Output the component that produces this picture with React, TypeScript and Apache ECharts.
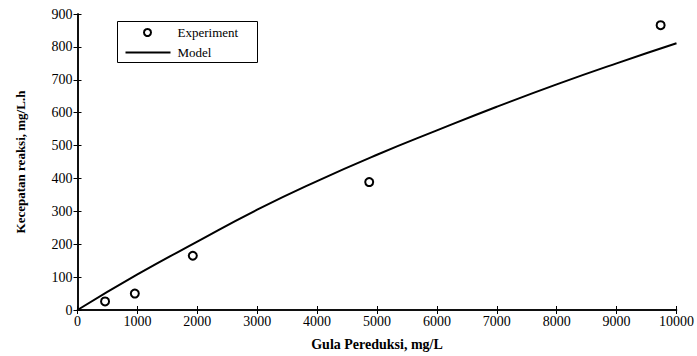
import React, { useEffect, useRef } from "react";
import * as echarts from "echarts";

const experimentX = [460, 957, 1925, 4870, 9735];
const experimentY = [26, 50, 165, 389, 866];
const modelX = [0, 1000, 2000, 3000, 4000, 5000, 6000, 7000, 8000, 9000, 10000];
const modelY = [0, 108, 208, 305, 392, 472, 546, 618, 686, 750, 811];
const xTicks = [0, 1000, 2000, 3000, 4000, 5000, 6000, 7000, 8000, 9000, 10000];
const yTicks = [0, 100, 200, 300, 400, 500, 600, 700, 800, 900];
const legendNames = ["Experiment", "Model"];

const FONT = "Liberation Serif, Times New Roman, serif";

export default function App() {
  const ref = useRef<HTMLDivElement>(null);
  useEffect(() => {
    if (!ref.current) return;
    const chart = echarts.init(ref.current, null, { renderer: "svg" });
    const axisLine = { show: true, lineStyle: { color: "#000", width: 1.5 } };
    const tick = { show: true, inside: true, length: 4, lineStyle: { color: "#000", width: 1 } };
    const lblStyle = { fontFamily: FONT, fontSize: 14, color: "#000" };
    chart.setOption({
      animation: false,
      backgroundColor: "#fff",
      grid: { left: 77.5, right: 18.5, top: 14, bottom: 44, containLabel: false },
      legend: { show: false },
      graphic: [
        {
          type: "group",
          left: 117,
          top: 21,
          z: 100,
          children: [
            {
              type: "rect",
              shape: { x: 0, y: 0, width: 140, height: 41 },
              style: { fill: "#fff", stroke: "#000", lineWidth: 1 },
            },
            {
              type: "circle",
              shape: { cx: 30, cy: 11, r: 3.5 },
              style: { fill: "#fff", stroke: "#000", lineWidth: 2 },
            },
            {
              type: "line",
              shape: { x1: 8, y1: 31, x2: 53, y2: 31 },
              style: { stroke: "#000", lineWidth: 2 },
            },
            {
              type: "text",
              x: 60,
              y: 11,
              style: { text: legendNames[0], fill: "#000", font: "13px " + FONT, textVerticalAlign: "middle" },
            },
            {
              type: "text",
              x: 60,
              y: 31,
              style: { text: legendNames[1], fill: "#000", font: "13px " + FONT, textVerticalAlign: "middle" },
            },
          ],
        },
      ],
      xAxis: [
        {
          type: "value",
          min: xTicks[0],
          max: xTicks[xTicks.length - 1],
          interval: 1000,
          position: "bottom",
          name: "Gula Pereduksi, mg/L",
          nameLocation: "middle",
          nameGap: 27,
          nameTextStyle: { fontFamily: FONT, fontSize: 14, fontWeight: "bold", color: "#000" },
          axisLine,
          axisTick: tick,
          splitLine: { show: false },
          axisLabel: { ...lblStyle, margin: 4, formatter: (v: number) => String(v) },
        },
        {
          type: "value",
          min: xTicks[0],
          max: xTicks[xTicks.length - 1],
          interval: 1000,
          position: "top",
          axisLine,
          axisTick: tick,
          splitLine: { show: false },
          axisLabel: { show: false },
        },
      ],
      yAxis: [
        {
          type: "value",
          min: yTicks[0],
          max: yTicks[yTicks.length - 1],
          interval: 100,
          position: "left",
          name: "Kecepatan reaksi, mg/L.h",
          nameLocation: "middle",
          nameGap: 51,
          nameRotate: 90,
          nameTextStyle: { fontFamily: FONT, fontSize: 13, fontWeight: "bold", color: "#000" },
          axisLine,
          axisTick: tick,
          splitLine: { show: false },
          axisLabel: { ...lblStyle, margin: 5, formatter: (v: number) => String(v) },
        },
        {
          type: "value",
          min: yTicks[0],
          max: yTicks[yTicks.length - 1],
          interval: 100,
          position: "right",
          axisLine,
          axisTick: tick,
          splitLine: { show: false },
          axisLabel: { show: false },
        },
      ],
      series: [
        {
          name: "Model",
          type: "line",
          data: modelX.map((x, i) => [x, modelY[i]]),
          smooth: true,
          symbol: "none",
          showSymbol: false,
          lineStyle: { color: "#000", width: 2 },
          itemStyle: { color: "#000" },
          z: 2,
        },
        {
          name: "Experiment",
          type: "scatter",
          data: experimentX.map((x, i) => [x, experimentY[i]]),
          symbol: "circle",
          symbolSize: 8,
          itemStyle: { color: "#fff", borderColor: "#000", borderWidth: 2, opacity: 1 },
          z: 5,
        },
      ],
    });
    return () => chart.dispose();
  }, []);
  return (
    <div
      ref={ref}
      style={{ position: "absolute", left: 0, top: 0, width: 697, height: 356 }}
    />
  );
}
